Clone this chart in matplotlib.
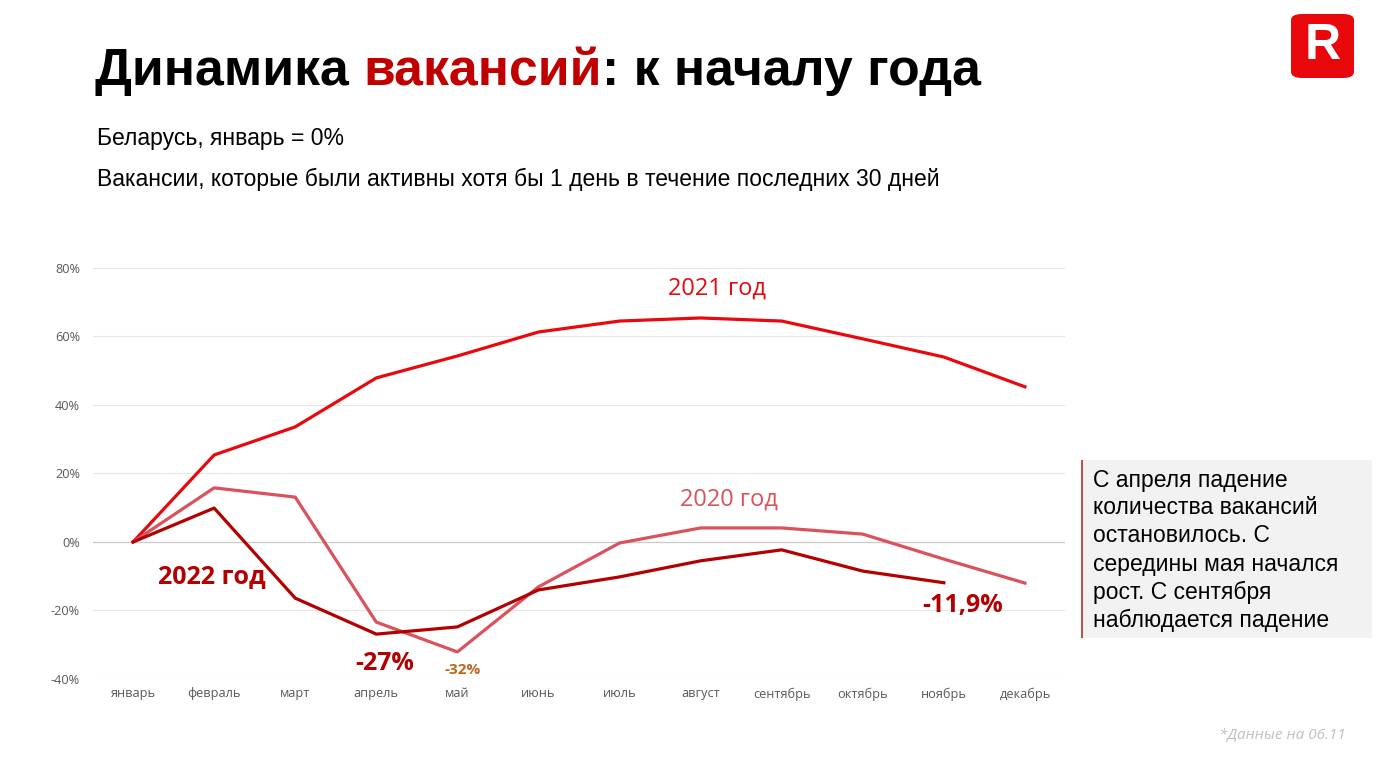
import matplotlib.pyplot as plt
import numpy as np
from matplotlib.patches import FancyBboxPatch, Rectangle

months = ['январь', 'февраль', 'март', 'апрель', 'май', 'июнь', 'июль',
          'август', 'сентябрь', 'октябрь', 'ноябрь', 'декабрь']
y2021 = [0, 25.4, 33.6, 47.9, 54.3, 61.3, 64.5, 65.4, 64.5, 59.3, 54.0, 45.3]
y2020 = [0, 15.8, 13.1, -23.4, -32.1, -13.1, -0.3, 4.1, 4.1, 2.3, -5.0, -12.0]
y2022 = [0, 9.9, -16.4, -26.9, -24.8, -14.0, -10.2, -5.5, -2.3, -8.5, -11.9]
yticks = [-40, -20, 0, 20, 40, 60, 80]

c2021 = '#e8090e'
c2020 = '#d9525c'
c2022 = '#b30000'
label_font = ['Open Sans', 'DejaVu Sans']

fig = plt.figure(figsize=(13.85, 7.7), dpi=100)
ax = fig.add_axes([0.0668, 0.1182, 0.7025, 0.5338])

x = np.arange(len(months))
ax.plot(x, y2021, color=c2021, lw=2.3)
ax.plot(x, y2020, color=c2020, lw=2.3)
ax.plot(x[:len(y2022)], y2022, color=c2022, lw=2.3)

ax.set_xlim(-0.5, 11.5)
ax.set_ylim(-40, 80)
ax.set_yticks(yticks)
ax.set_yticklabels([f'{v}%' for v in yticks])
ax.set_xticks(x)
ax.set_xticklabels(months)
ax.tick_params(length=0, labelsize=9.2, labelcolor='#595959', pad=6)
ax.tick_params(axis='y', pad=9)
for lab in ax.get_xticklabels() + ax.get_yticklabels():
    lab.set_family(label_font)
ax.grid(axis='y', color='#e6e6e6', lw=0.8)
ax.axhline(0, color='#cccccc', lw=0.9, zorder=1)
for s in ax.spines.values():
    s.set_visible(False)
ax.set_axisbelow(True)

# series labels
ax.text(7.2, 74, '2021 год', color=c2021, fontsize=17, family=label_font,
        ha='center', va='center')
ax.text(7.35, 12.5, '2020 год', color=c2020, fontsize=17, family=label_font,
        ha='center', va='center')
ax.text(0.97, -10, '2022 год', color=c2022, fontsize=18, family=label_font,
        fontweight='bold', ha='center', va='center')
ax.text(3.1, -35.5, '-27%', color=c2022, fontsize=18, family=label_font,
        fontweight='bold', ha='center', va='center')
ax.text(4.07, -37.5, '-32%', color='#c0651a', fontsize=11, family=label_font,
        fontweight='bold', ha='center', va='center')
ax.text(10.23, -18.5, '-11,9%', color=c2022, fontsize=18, family=label_font,
        fontweight='bold', ha='center', va='center')

# title, middle word in dark red
ty = 1 - 72 / 770
t1 = fig.text(95 / 1385, ty, 'Динамика ', fontsize=37.3, fontweight='bold',
              family='Liberation Sans', va='center', ha='left')
fig.canvas.draw()
r = fig.canvas.get_renderer()
x1 = t1.get_window_extent(r).x1 / fig.bbox.width
t2 = fig.text(x1, ty, 'вакансий', fontsize=37.3, fontweight='bold',
              family='Liberation Sans', va='center', ha='left', color='#c00000')
x2 = t2.get_window_extent(r).x1 / fig.bbox.width
fig.text(x2, ty, ': к началу года', fontsize=37.3, fontweight='bold',
         family='Liberation Sans', va='center', ha='left')

fig.text(97 / 1385, 1 - 138 / 770, 'Беларусь, январь = 0%', fontsize=16.5,
         family='Liberation Sans', va='center', ha='left')
fig.text(97 / 1385, 1 - 179 / 770,
         'Вакансии, которые были активны хотя бы 1 день в течение последних 30 дней',
         fontsize=16.5, family='Liberation Sans', va='center', ha='left')

# note box
fig.patches.append(Rectangle((1082 / 1385, 1 - 638 / 770), 290 / 1385, 178 / 770,
                             transform=fig.transFigure, facecolor='#f2f2f2',
                             edgecolor='none'))
fig.patches.append(Rectangle((1081 / 1385, 1 - 638 / 770), 2 / 1385, 178 / 770,
                             transform=fig.transFigure, facecolor='#c0504d',
                             edgecolor='none'))
note = ['С апреля падение', 'количества вакансий', 'остановилось. С',
        'середины мая начался', 'рост. С сентября', 'наблюдается падение']
for i, line in enumerate(note):
    fig.text(1093 / 1385, 1 - (480 + i * 28) / 770, line, fontsize=16.5,
             family='Liberation Sans', va='center', ha='left')

# footnote
fig.text(1346 / 1385, 1 - 735 / 770, '*Данные на 06.11', fontsize=11,
         family=label_font, style='italic', color='#bfbfbf', ha='right', va='center')

# logo
fig.patches.append(FancyBboxPatch((1291 / 1385, 1 - 78 / 770), 63 / 1385, 64 / 770,
                                  boxstyle='round,pad=0,rounding_size=0.008',
                                  transform=fig.transFigure, facecolor='#e8070a',
                                  edgecolor='none'))
fig.text(1323 / 1385, 1 - 46 / 770, 'R', fontsize=36, fontweight='bold',
         family='Liberation Sans', color='white', ha='center', va='center')

fig.savefig('out.png', dpi=100)
